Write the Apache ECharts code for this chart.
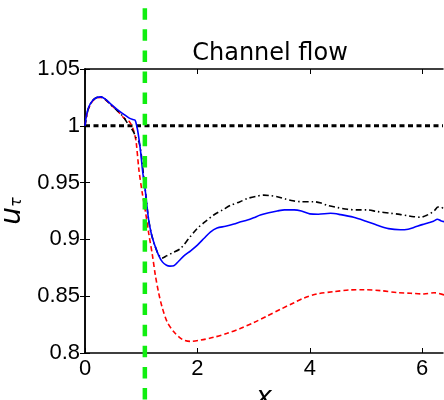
<!DOCTYPE html>
<html>
<head>
<meta charset="utf-8">
<script src="https://cdn.jsdelivr.net/npm/echarts@6/dist/echarts.min.js"></script>
<style>html,body{margin:0;padding:0;background:#fff}#c{width:444px;height:400px}</style>
</head>
<body>
<div id="c"></div>
<script>
// ---- data ----
var xTicks = [0, 2, 4, 6];
var yTicks = [0.8, 0.85, 0.9, 0.95, 1, 1.05];
var blueX = [0,0.03,0.07,0.14,0.21,0.28,0.36,0.45,0.57,0.68,0.78,0.85,0.89,0.92,0.95,0.99,1.03,1.07,1.13,1.18,1.24,1.31,1.38,1.45,1.51,1.58,1.67,1.76,1.88,2.0,2.12,2.23,2.35,2.5,2.65,2.77,2.89,3.0,3.12,3.27,3.42,3.55,3.72,3.85,4.0,4.15,4.37,4.55,4.78,5.0,5.2,5.4,5.61,5.75,5.85,6.0,6.1,6.2,6.27,6.33,6.4];
var blueY = [1.000,1.010,1.017,1.0225,1.025,1.0255,1.0235,1.0195,1.0145,1.0105,1.007,1.0055,1.005,1.000,0.992,0.977,0.958,0.944,0.918,0.905,0.895,0.886,0.880,0.8772,0.8765,0.8768,0.881,0.8855,0.890,0.895,0.901,0.9065,0.910,0.9115,0.9135,0.9155,0.917,0.919,0.9215,0.9235,0.925,0.926,0.926,0.925,0.9225,0.9222,0.923,0.9218,0.9195,0.916,0.9125,0.9095,0.9085,0.909,0.9105,0.913,0.9145,0.916,0.9177,0.9165,0.9155];
var blackX = [0,0.03,0.07,0.14,0.21,0.28,0.36,0.45,0.57,0.68,0.76,0.82,0.87,0.9,0.93,0.96,1.0,1.04,1.08,1.13,1.18,1.24,1.3,1.37,1.45,1.55,1.7,1.85,2.0,2.15,2.29,2.45,2.59,2.75,2.89,3.05,3.18,3.3,3.42,3.57,3.7,3.83,4.07,4.2,4.31,4.5,4.67,4.85,5.02,5.2,5.44,5.6,5.73,5.85,5.97,6.07,6.15,6.22,6.28,6.33,6.4];
var blackY = [1.000,1.009,1.0165,1.0225,1.025,1.0255,1.0235,1.019,1.0135,1.008,1.002,0.998,0.994,0.990,0.988,0.986,0.975,0.957,0.940,0.918,0.905,0.895,0.8875,0.8835,0.8855,0.888,0.892,0.901,0.9098,0.916,0.9215,0.926,0.930,0.933,0.936,0.938,0.939,0.9385,0.9375,0.9355,0.934,0.9332,0.9332,0.932,0.930,0.928,0.9265,0.926,0.926,0.9245,0.923,0.922,0.9209,0.920,0.9195,0.921,0.923,0.9255,0.9285,0.9285,0.926];
var redX = [0,0.03,0.07,0.14,0.21,0.28,0.36,0.45,0.57,0.7,0.79,0.85,0.88,0.91,0.96,1.02,1.08,1.135,1.2,1.25,1.31,1.37,1.46,1.58,1.73,1.88,2.06,2.29,2.53,2.77,3.0,3.24,3.48,3.72,3.89,4.13,4.43,4.72,4.96,5.26,5.56,5.79,6.03,6.21,6.4];
var redY = [1.000,1.009,1.016,1.022,1.0245,1.025,1.023,1.019,1.0135,1.0066,1.0036,0.998,0.993,0.986,0.961,0.9406,0.923,0.905,0.886,0.869,0.853,0.8408,0.8276,0.8187,0.812,0.8102,0.8114,0.8138,0.8173,0.8217,0.8267,0.8326,0.8385,0.8443,0.8482,0.852,0.854,0.8555,0.8557,0.8549,0.8531,0.8526,0.852,0.8531,0.851];
var refY = [1.0];
var greenX = [1.065];

function pairs(xs, ys) { return xs.map(function (x, i) { return [x, ys[i]]; }); }

var chart = echarts.init(document.getElementById('c'), null, { renderer: 'canvas' });
var labelFont = { fontFamily: 'Liberation Sans', fontSize: 22, color: '#000' };
var axLine = { show: true, lineStyle: { color: '#000', width: 1.5 } };
var tick = { show: true, inside: true, length: 5, lineStyle: { color: '#000', width: 1 } };

chart.setOption({
  animation: false,
  backgroundColor: '#fff',
  title: {
    text: 'Channel flow', left: 265, top: 37, textAlign: 'center',
    textStyle: { fontFamily: 'DejaVu Sans', fontSize: 24, fontWeight: 'normal', color: '#000' }
  },
  grid: { left: 85, right: 1, top: 69, bottom: 47, containLabel: false, outerBoundsMode: 'none' },
  xAxis: [
    { type: 'value', position: 'bottom', min: 0, max: 6.37, interval: 2,
      axisLine: axLine, axisTick: Object.assign({ customValues: xTicks }, tick),
      axisLabel: Object.assign({ margin: 5, customValues: xTicks }, labelFont),
      splitLine: { show: false },
      name: 'x', nameLocation: 'middle', nameGap: 26,
      nameTextStyle: { fontFamily: 'DejaVu Sans', fontStyle: 'italic', fontSize: 27, color: '#000' } },
    { type: 'value', position: 'top', min: 0, max: 6.37, interval: 2,
      axisLine: axLine, axisTick: Object.assign({ customValues: xTicks }, tick),
      axisLabel: { show: false }, splitLine: { show: false } }
  ],
  yAxis: [
    { type: 'value', position: 'left', min: 0.8, max: 1.05, interval: 0.05,
      axisLine: axLine, axisTick: Object.assign({ customValues: yTicks }, tick),
      axisLabel: Object.assign({ margin: 5, customValues: yTicks }, labelFont),
      splitLine: { show: false },
      name: '{u|u}{t|τ}', nameLocation: 'middle', nameGap: 52, nameRotate: 90,
      nameTextStyle: { rich: {
        u: { fontFamily: 'DejaVu Sans', fontStyle: 'italic', fontSize: 28, color: '#000' },
        t: { fontFamily: 'DejaVu Sans', fontStyle: 'italic', fontSize: 16, color: '#000', padding: [10, 0, 0, 0] }
      } } },
    { type: 'value', position: 'right', min: 0.8, max: 1.05, interval: 0.05,
      axisLine: axLine, axisTick: Object.assign({ customValues: yTicks }, tick),
      axisLabel: { show: false }, splitLine: { show: false } }
  ],
  series: [
    { type: 'line', name: 'ref', xAxisIndex: 0, yAxisIndex: 0, symbol: 'none', silent: true,
      data: [[0, refY[0]], [6.37, refY[0]]],
      lineStyle: { color: '#000', width: 3, type: [5, 3.5] }, z: 2 },
    { type: 'line', name: 'red', xAxisIndex: 0, yAxisIndex: 0, symbol: 'none', clip: true,
      data: pairs(redX, redY), smooth: 0.3,
      lineStyle: { color: '#ff0000', width: 1.6, type: [5, 3] }, z: 3 },
    { type: 'line', name: 'black', xAxisIndex: 0, yAxisIndex: 0, symbol: 'none', clip: true,
      data: pairs(blackX, blackY), smooth: 0.3,
      lineStyle: { color: '#000', width: 1.6, type: [6, 3, 1.5, 3] }, z: 4 },
    { type: 'line', name: 'blue', xAxisIndex: 0, yAxisIndex: 0, symbol: 'none', clip: true,
      data: pairs(blueX, blueY), smooth: 0.3,
      lineStyle: { color: '#0000ff', width: 1.6 }, z: 5 },
    { type: 'custom', name: 'green', xAxisIndex: 0, yAxisIndex: 0, clip: false, z: 6,
      data: greenX.map(function (x) { return [x]; }),
      renderItem: function (params, api) {
        var x = api.value(0);
        var p1 = api.coord([x, 1.1035]);
        var p2 = api.coord([x, 0.74]);
        return { type: 'line', shape: { x1: p1[0], y1: p1[1], x2: p2[0], y2: p2[1] },
          style: { stroke: '#11ee11', lineWidth: 4.5, lineDash: [11.5, 9.6] } };
      } }
  ]
});
</script>
</body>
</html>
